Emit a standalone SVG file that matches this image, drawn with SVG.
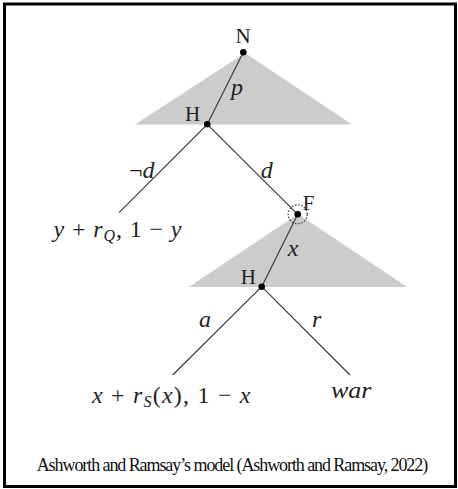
<svg xmlns="http://www.w3.org/2000/svg" width="458" height="489" viewBox="0 0 458 489">
<style>
.m{font-family:"Liberation Serif","DejaVu Serif",serif;font-size:24px;fill:#222}
.i{font-style:italic}
.lbl{font-family:"Liberation Serif","DejaVu Serif",serif;font-size:24px;fill:#222;text-anchor:middle}
.nd{font-family:"Liberation Serif","DejaVu Serif",serif;font-size:21px;fill:#222;text-anchor:middle}
.edge{stroke:#333;stroke-width:1.1;fill:none}
.tri{fill:#cccccc}
.dot{fill:#000}
.cap{font-family:"Liberation Serif","DejaVu Serif",serif;font-size:18px;fill:#111}
</style>
<rect x="4.5" y="4" width="451" height="482.5" fill="#fff" stroke="#000" stroke-width="3"/>
<g id="shading">
<polygon class="tri" points="245,53 135,124.5 352,124.5"/>
<polygon class="tri" points="298,214 189,287 407,287"/>
</g>
<g id="connectors">
<line class="edge" x1="243.3" y1="52.3" x2="207.3" y2="124.3"/>
<line class="edge" x1="207.3" y1="124.3" x2="119" y2="212.7"/>
<line class="edge" x1="207.3" y1="124.3" x2="297.7" y2="214.3"/>
<line class="edge" x1="297.7" y1="214.3" x2="261.7" y2="286.7"/>
<line class="edge" x1="261.7" y1="286.7" x2="172.7" y2="375"/>
<line class="edge" x1="261.7" y1="286.7" x2="350" y2="375"/>
<text class="lbl i" x="237" y="95">p</text>
<text class="lbl" x="141.7" y="178">¬<tspan class="i">d</tspan></text>
<text class="lbl i" x="266.7" y="178">d</text>
<text class="lbl i" x="293" y="256">x</text>
<text class="lbl i" x="205" y="327">a</text>
<text class="lbl i" x="316.7" y="327">r</text>
</g>
<g id="node-N">
<circle class="dot" cx="243.3" cy="52.3" r="3.3"/>
<text class="nd" x="243" y="43">N</text>
</g>
<g id="node-H1">
<circle class="dot" cx="207.3" cy="124.3" r="3.3"/>
<text class="nd" x="192.5" y="120.5">H</text>
</g>
<g id="node-F">
<circle class="dot" cx="297.7" cy="214.3" r="3.3"/>
<circle cx="297.7" cy="214.3" r="9.5" fill="none" stroke="#333" stroke-width="1.1" stroke-dasharray="1.6,1.6"/>
<text class="nd" x="308.5" y="210">F</text>
</g>
<g id="node-H2">
<circle class="dot" cx="261.7" cy="286.7" r="3.3"/>
<text class="nd" x="248.3" y="283.5">H</text>
</g>
<g id="payoff-Q">
<text class="m" x="53.5" y="237" textLength="128" lengthAdjust="spacing"><tspan class="i">y</tspan> + <tspan class="i">r</tspan><tspan class="i" font-size="16" dy="4">Q</tspan><tspan dy="-4">, 1 − </tspan><tspan class="i">y</tspan></text>
</g>
<g id="payoff-S">
<text class="m" x="92" y="403" textLength="158.5" lengthAdjust="spacing"><tspan class="i">x</tspan> + <tspan class="i">r</tspan><tspan class="i" font-size="16" dy="4">S</tspan><tspan dy="-4">(</tspan><tspan class="i">x</tspan>), 1 − <tspan class="i">x</tspan></text>
</g>
<g id="payoff-war">
<text class="m i" x="331" y="398" textLength="40.5" lengthAdjust="spacingAndGlyphs">war</text>
</g>
<text class="cap" x="36.7" y="471" textLength="391.5" lengthAdjust="spacing">Ashworth and Ramsay’s model (Ashworth and Ramsay, 2022)</text>
</svg>
